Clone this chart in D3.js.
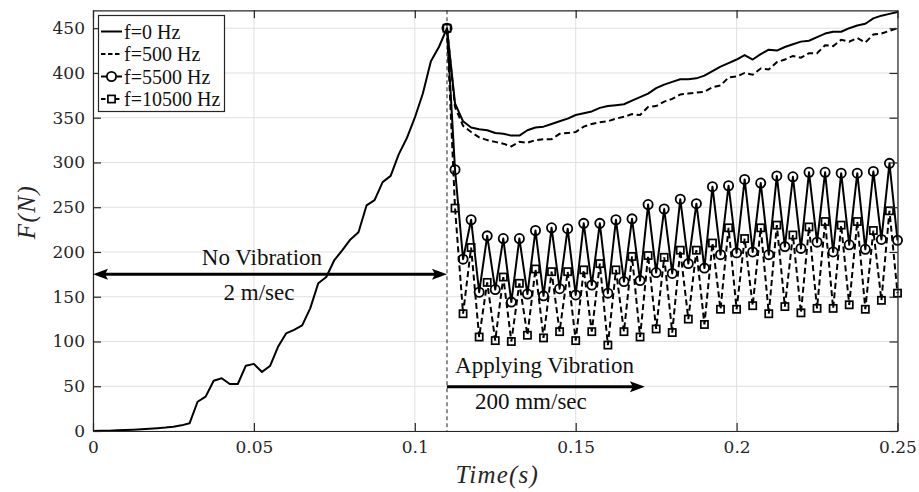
<!DOCTYPE html>
<html><head><meta charset="utf-8">
<script src="https://cdn.jsdelivr.net/npm/d3@7"></script>
<style>body{margin:0;background:#fff}</style>
</head><body>
<svg id="c" width="919" height="492"></svg>
<script>
// ---------- data ----------
const xTicks = [0, 0.05, 0.1, 0.15, 0.2, 0.25];
const xTickLabels = ["0", "0.05", "0.1", "0.15", "0.2", "0.25"];
const yTicks = [0, 50, 100, 150, 200, 250, 300, 350, 400, 450];
const seriesNames = ["f=0 Hz", "f=500 Hz", "f=5500 Hz", "f=10500 Hz"];
const sampleStep = 0.0025;      // sampling interval (s)
const vibrationStart = 0.11;    // s
// f=0 Hz before vibration (t = 0 .. 0.11)
const riseF0 = [0, 0.2, 0.4, 0.7, 1.1, 1.5, 2, 2.5, 3.1, 3.8, 4.8, 6.3, 8.6, 32.7, 38.4,
  56.2, 58.9, 52.5, 52.5, 73, 75, 66, 72.6, 94, 109, 113, 118, 137, 165, 172, 191, 202,
  214, 222, 252, 258, 278, 285, 309, 327, 350, 377, 413, 429, 450];
// after vibration start (t = 0.11 .. 0.25)
const f0After = [450, 366, 346, 339, 337, 336, 333, 332, 330, 330, 336, 339, 340, 343, 346,
  349, 353, 355, 357, 361, 363, 364, 365, 369, 373, 377, 383, 387, 390, 393, 393, 394, 397,
  402, 407, 411, 415, 420, 415, 421, 426, 425, 429, 432, 435, 436, 440, 444, 446, 446, 450,
  453, 455, 461, 464, 466, 468];
const f500 = [450, 362, 341, 334, 328, 325, 323, 321, 318, 323, 322, 325, 326, 326, 332, 333,
  334, 340, 343, 345, 346, 349, 351, 354, 353, 362, 363, 368, 371, 376, 377, 378, 379, 384,
  386, 395, 396, 400, 398, 405, 404, 412, 415, 419, 417, 422, 422, 431, 430, 437, 435, 439,
  434, 443, 444, 447, 450];
const f5500 = [450, 292, 192, 236, 155, 218, 158, 215, 144, 215, 153, 224, 151, 227, 159, 226,
  152, 232, 163, 232, 154, 236, 167, 237, 168, 253, 177, 248, 176, 259, 187, 254, 182, 273,
  197, 274, 199, 281, 200, 277, 197, 285, 206, 284, 204, 289, 211, 289, 200, 288, 208, 288,
  203, 290, 214, 299, 213];
const f10500 = [450, 249, 131, 205, 105, 166, 101, 172, 100, 165, 107, 181, 104, 178, 111, 178,
  101, 180, 111, 187, 96, 180, 111, 195, 105, 196, 114, 194, 110, 202, 125, 202, 119, 210,
  136, 227, 136, 215, 140, 227, 131, 230, 139, 219, 132, 228, 137, 234, 137, 230, 141, 234,
  136, 224, 146, 246, 154];
// annotations: [text, t, F]
const annNoVib = ["No Vibration", 0.0525, 185];
const annSpeed1 = ["2 m/sec", 0.0516, 146];
const annApply = ["Applying Vibration", 0.1125, 65];
const annSpeed2 = ["200 mm/sec", 0.1187, 25];
const arrow1 = {t0: 0, t1: 0.11, F: 175};
const arrow2 = {t0: 0.11, t1: 0.1715, F: 49.5};

// ---------- build ----------
const W = 919, H = 492;
const L = 93, R = 897.5, T = 10.3, B = 431;
const svg = d3.select("#c");
svg.append("rect").attr("width", W).attr("height", H).attr("fill", "#fff");
const x = d3.scaleLinear().domain([0, 0.25]).range([L, R]);
const y = d3.scaleLinear().domain([0, 470]).range([B, T]);

const riseT = riseF0.map((_, i) => +(i * sampleStep).toFixed(4));
const vibT = f0After.map((_, k) => +(vibrationStart + k * sampleStep).toFixed(4));
const f0 = riseT.map((t, i) => [t, riseF0[i]]).concat(vibT.slice(1).map((t, k) => [t, f0After[k + 1]]));
const s500 = vibT.map((t, k) => [t, f500[k]]);
const s5500 = vibT.map((t, k) => [t, f5500[k]]);
const s10500 = vibT.map((t, k) => [t, f10500[k]]);

// grid
const grid = svg.append("g");
grid.selectAll("line.gx").data(xTicks).join("line")
  .attr("x1", d => x(d)).attr("x2", d => x(d)).attr("y1", T).attr("y2", B)
  .attr("stroke", "#e0e0e0").attr("stroke-width", 1);
grid.selectAll("line.gy").data(yTicks).join("line").attr("class", "gy")
  .attr("x1", L).attr("x2", R).attr("y1", d => y(d)).attr("y2", d => y(d))
  .attr("stroke", "#e0e0e0").attr("stroke-width", 1);

// vertical dashed line at vibration start
svg.append("line").attr("x1", x(vibrationStart)).attr("x2", x(vibrationStart))
  .attr("y1", T).attr("y2", B).attr("stroke", "#555").attr("stroke-width", 1.3)
  .attr("stroke-dasharray", "4,3");

// series
const line = d3.line().x(d => x(d[0])).y(d => y(d[1]));
const plot = svg.append("g");
plot.append("path").datum(f0).attr("d", line).attr("fill", "none")
  .attr("stroke", "#000").attr("stroke-width", 2).attr("stroke-linejoin", "round");
plot.append("path").datum(s500).attr("d", line).attr("fill", "none")
  .attr("stroke", "#000").attr("stroke-width", 2).attr("stroke-dasharray", "6,3.5");
plot.append("path").datum(s5500).attr("d", line).attr("fill", "none")
  .attr("stroke", "#000").attr("stroke-width", 2).attr("stroke-linejoin", "round");
plot.selectAll("circle.m5500").data(s5500).join("circle").attr("class", "m5500")
  .attr("cx", d => x(d[0])).attr("cy", d => y(d[1])).attr("r", 4.6)
  .attr("fill", "none").attr("stroke", "#000").attr("stroke-width", 1.8);
plot.append("path").datum(s10500).attr("d", line).attr("fill", "none")
  .attr("stroke", "#000").attr("stroke-width", 2).attr("stroke-dasharray", "6,3.5");
plot.selectAll("rect.m10500").data(s10500).join("rect").attr("class", "m10500")
  .attr("x", d => x(d[0]) - 3.6).attr("y", d => y(d[1]) - 3.6).attr("width", 7.2).attr("height", 7.2)
  .attr("fill", "none").attr("stroke", "#000").attr("stroke-width", 1.7);

// axes (ticks inside, box on)
const tickFont = "DejaVu Serif";
const axB = svg.append("g").attr("transform", `translate(0,${B})`)
  .call(d3.axisBottom(x).tickValues(xTicks).tickFormat((d, i) => xTickLabels[i])
    .tickSizeInner(-8).tickSizeOuter(0).tickPadding(10));
const axL = svg.append("g").attr("transform", `translate(${L},0)`)
  .call(d3.axisLeft(y).tickValues(yTicks).tickFormat(d3.format("d"))
    .tickSizeInner(-8).tickSizeOuter(0).tickPadding(8));
const axT = svg.append("g").attr("transform", `translate(0,${T})`)
  .call(d3.axisTop(x).tickValues(xTicks).tickFormat("").tickSizeInner(-8).tickSizeOuter(0));
const axR = svg.append("g").attr("transform", `translate(${R},0)`)
  .call(d3.axisRight(y).tickValues(yTicks).tickFormat("").tickSizeInner(-8).tickSizeOuter(0));
[axB, axL, axT, axR].forEach(a => {
  a.select(".domain").attr("stroke", "#262626").attr("stroke-width", 1.2);
  a.selectAll(".tick line").attr("stroke", "#262626").attr("stroke-width", 1.2);
  a.selectAll("text").attr("font-family", tickFont).attr("font-size", 17).attr("fill", "#262626");
});

// axis labels
svg.append("text").attr("x", (L + R) / 2 + 2).attr("y", 483).attr("text-anchor", "middle")
  .attr("font-family", "Liberation Serif").attr("font-style", "italic").attr("font-size", 25)
  .attr("letter-spacing", 1.2).attr("fill", "#262626").text("Time(s)");
svg.append("text").attr("transform", `translate(35,${212}) rotate(-90)`).attr("text-anchor", "middle")
  .attr("font-family", "Liberation Serif").attr("font-style", "italic").attr("font-size", 25)
  .attr("letter-spacing", 1.5).attr("fill", "#262626").text("F(N)");

// annotations
const annFont = "Liberation Serif";
function ann(a, anchor) {
  svg.append("text").attr("x", x(a[1])).attr("y", y(a[2])).attr("text-anchor", anchor)
    .attr("font-family", annFont).attr("font-size", 23).attr("fill", "#111").text(a[0]);
}
ann(annNoVib, "middle"); ann(annSpeed1, "middle");
ann(annApply, "start"); ann(annSpeed2, "start");

function head(xTip, yy, dir) {
  const len = 15, hw = 5.5;
  svg.append("path")
    .attr("d", `M${xTip},${yy} L${xTip - dir * len},${yy - hw} L${xTip - dir * len * 0.8},${yy} L${xTip - dir * len},${yy + hw} Z`)
    .attr("fill", "#000");
}
svg.append("line").attr("x1", x(arrow1.t0) + 6).attr("x2", x(arrow1.t1) - 6)
  .attr("y1", y(arrow1.F)).attr("y2", y(arrow1.F)).attr("stroke", "#000").attr("stroke-width", 3);
head(x(arrow1.t0), y(arrow1.F), -1);
head(x(arrow1.t1), y(arrow1.F), 1);
svg.append("line").attr("x1", x(arrow2.t0)).attr("x2", x(arrow2.t1) - 6)
  .attr("y1", y(arrow2.F)).attr("y2", y(arrow2.F)).attr("stroke", "#000").attr("stroke-width", 3);
head(x(arrow2.t1), y(arrow2.F), 1);

// legend
const lg = svg.append("g");
lg.append("rect").attr("x", 98.5).attr("y", 15.5).attr("width", 126).attr("height", 96)
  .attr("fill", "#fff").attr("stroke", "#262626").attr("stroke-width", 1.2);
const rowY = i => 31.5 + i * 22.5;
const dashes = [null, "6,3.5", null, "6,3.5"];
seriesNames.forEach((name, i) => {
  lg.append("line").attr("x1", 101).attr("x2", 122).attr("y1", rowY(i)).attr("y2", rowY(i))
    .attr("stroke", "#000").attr("stroke-width", 2)
    .attr("stroke-dasharray", dashes[i] ? "4.5,2.5" : null);
  if (i === 2) lg.append("circle").attr("cx", 111.5).attr("cy", rowY(i)).attr("r", 4.6)
    .attr("fill", "#fff").attr("stroke", "#000").attr("stroke-width", 1.8);
  if (i === 3) lg.append("rect").attr("x", 111.5 - 3.6).attr("y", rowY(i) - 3.6).attr("width", 7.2).attr("height", 7.2)
    .attr("fill", "#fff").attr("stroke", "#000").attr("stroke-width", 1.7);
  lg.append("text").attr("x", 124).attr("y", rowY(i)).attr("dy", "0.35em")
    .attr("font-family", "Liberation Serif").attr("font-size", 20).attr("fill", "#111").text(name);
});
</script>
</body></html>
